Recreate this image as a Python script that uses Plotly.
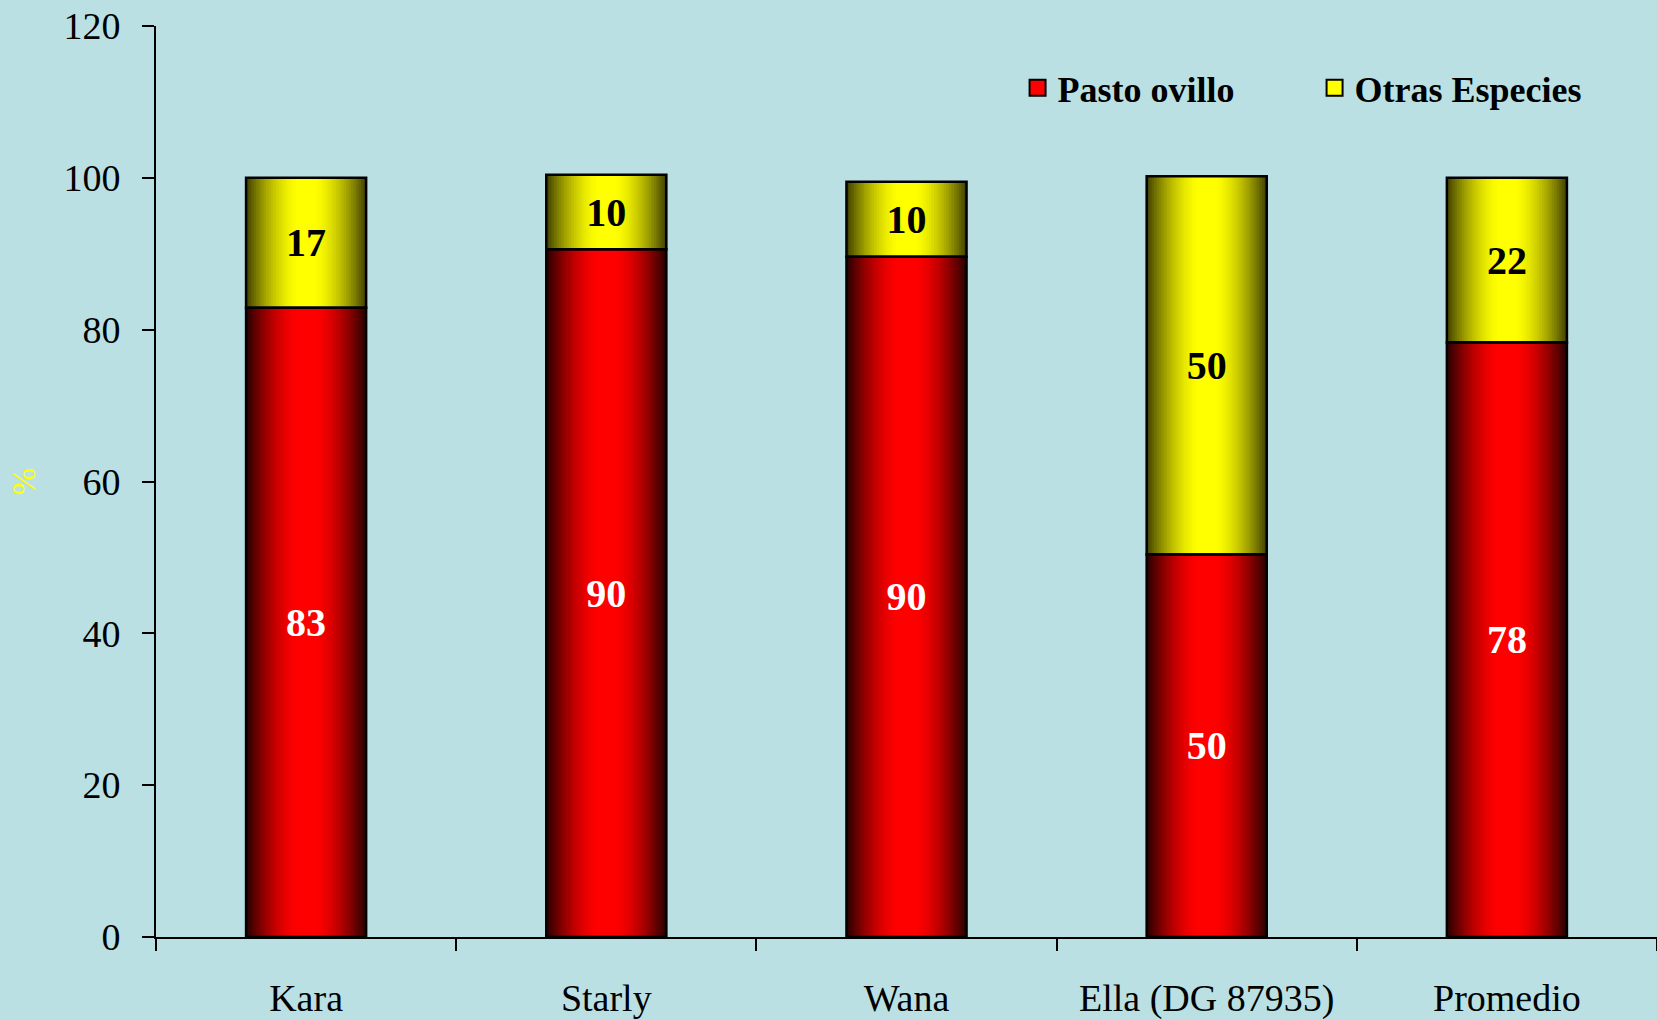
import plotly.graph_objects as go

categories = ["Kara", "Starly", "Wana", "Ella (DG 87935)", "Promedio"]
pasto_ovillo = [82.9, 90.6, 89.6, 50.4, 78.3]
otras_especies = [17.1, 9.8, 9.9, 49.8, 21.7]
pasto_labels = ["83", "90", "90", "50", "78"]
otras_labels = ["17", "10", "10", "50", "22"]
series_names = ["Pasto ovillo", "Otras Especies"]

FONT = "Liberation Serif, Times New Roman, serif"
BG = "#BAE0E4"
BAR_W = 0.40
N_LAYERS = 24

def shade(edge, center, d):
    # d: normalized distance from bar centre (0 centre .. 1 edge)
    if d <= 0.15:
        f = 1.0
    else:
        f = 1.0 - ((d - 0.15) / 0.85) ** 1.6
    return "rgb({},{},{})".format(*[round(e + (c - e) * f) for e, c in zip(edge, center)])

fig = go.Figure()

# legend entries
fig.add_trace(go.Scatter(x=[None], y=[None], mode="markers", name=series_names[0],
                         marker=dict(symbol="square", size=22, color="#FF0000",
                                     line=dict(color="black", width=2))))
fig.add_trace(go.Scatter(x=[None], y=[None], mode="markers", name=series_names[1],
                         marker=dict(symbol="square", size=22, color="#FFFF00",
                                     line=dict(color="black", width=2))))

red_edge, red_center = (45, 0, 0), (255, 0, 0)
yel_edge, yel_center = (70, 70, 0), (255, 255, 0)

for k in range(N_LAYERS):
    d = (N_LAYERS - k) / N_LAYERS
    w = BAR_W * d
    fig.add_trace(go.Bar(x=categories, y=pasto_ovillo, width=w, showlegend=False,
                         marker=dict(color=shade(red_edge, red_center, d), line=dict(width=0)),
                         hoverinfo="skip"))
for k in range(N_LAYERS):
    d = (N_LAYERS - k) / N_LAYERS
    w = BAR_W * d
    fig.add_trace(go.Bar(x=categories, y=otras_especies, base=pasto_ovillo, width=w,
                         showlegend=False,
                         marker=dict(color=shade(yel_edge, yel_center, d), line=dict(width=0)),
                         hoverinfo="skip"))

# outlines + value labels
fig.add_trace(go.Bar(x=categories, y=pasto_ovillo, width=BAR_W, showlegend=False,
                     name=series_names[0],
                     marker=dict(color="rgba(0,0,0,0)", line=dict(color="black", width=2.5)),
                     text=pasto_labels, textposition="inside", insidetextanchor="middle",
                     textangle=0, constraintext="none",
                     textfont=dict(family=FONT, size=40, color="white", weight="bold")))
fig.add_trace(go.Bar(x=categories, y=otras_especies, base=pasto_ovillo, width=BAR_W,
                     showlegend=False, name=series_names[1],
                     marker=dict(color="rgba(0,0,0,0)", line=dict(color="black", width=2.5)),
                     text=otras_labels, textposition="inside", insidetextanchor="middle",
                     textangle=0, constraintext="none",
                     textfont=dict(family=FONT, size=40, color="black", weight="bold")))

fig.update_layout(
    width=1657, height=1020,
    margin=dict(l=156, r=0, t=26, b=81),
    paper_bgcolor=BG, plot_bgcolor=BG,
    barmode="overlay",
    font=dict(family=FONT, color="black"),
    legend=dict(orientation="h", x=0.574, y=0.932, xanchor="left", yanchor="middle",
                bgcolor="rgba(0,0,0,0)", entrywidth=252, entrywidthmode="pixels",
                font=dict(family=FONT, size=36, color="black", weight="bold")),
    xaxis=dict(type="category", tickson="boundaries", ticks="outside", ticklen=12,
               tickwidth=1.5, tickcolor="black", showline=True, linecolor="black",
               linewidth=1.5, showgrid=False, ticklabelstandoff=27,
               tickfont=dict(family=FONT, size=38, color="black"),
               range=[-0.5, 4.5]),
    yaxis=dict(range=[0, 120], dtick=20, ticks="outside", ticklen=12, tickwidth=2,
               tickcolor="black", showline=True, linecolor="black", linewidth=2,
               showgrid=False, zeroline=False, ticklabelstandoff=14,
               tickfont=dict(family=FONT, size=38, color="black"),
               title=dict(text="%", standoff=18,
                          font=dict(family=FONT, size=33, color="#FFFF00"))),
)

fig.write_html("out.html", config={"displayModeBar": False},
               post_script="document.body.style.margin='0';document.body.style.padding='0';")
